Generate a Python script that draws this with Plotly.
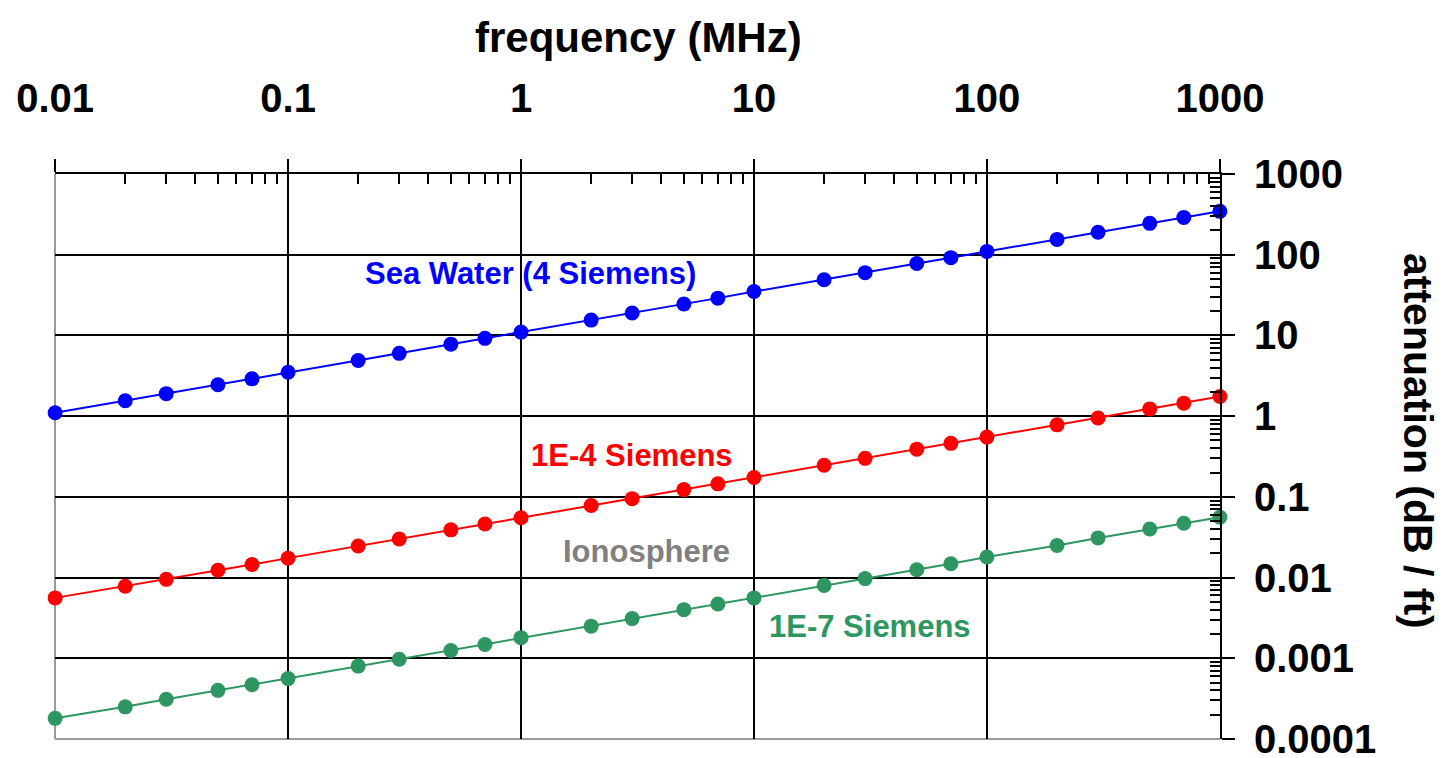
import math
import plotly.graph_objects as go

# frequency in MHz
freq = [0.01, 0.02, 0.03, 0.05, 0.07, 0.1, 0.2, 0.3, 0.5, 0.7,
        1, 2, 3, 5, 7, 10, 20, 30, 50, 70,
        100, 200, 300, 500, 700, 1000]

# attenuation (dB / ft)
sea_water = [1.1, 1.55, 1.9, 2.45, 2.9, 3.5, 4.9, 6.0, 7.8, 9.2,
             11, 15.5, 19, 24.5, 29, 35, 49, 60, 78, 92,
             110, 155, 190, 245, 290, 345]
s_1e4 = [0.0056, 0.0078, 0.0095, 0.0123, 0.0145, 0.0174, 0.0246, 0.030, 0.039, 0.046,
         0.055, 0.078, 0.095, 0.123, 0.145, 0.174, 0.246, 0.30, 0.39, 0.46,
         0.55, 0.78, 0.95, 1.23, 1.45, 1.75]
s_1e7 = [0.00018, 0.00025, 0.00031, 0.0004, 0.00047, 0.00056, 0.0008, 0.00097, 0.00125, 0.00148,
         0.0018, 0.0025, 0.0031, 0.004, 0.0047, 0.0056, 0.008, 0.0097, 0.0125, 0.0148,
         0.018, 0.025, 0.031, 0.040, 0.047, 0.056]

x_tickvals = [0.01, 0.1, 1, 10, 100, 1000]
x_ticktext = ["0.01", "0.1", "1", "10", "100", "1000"]
y_tickvals = [0.0001, 0.001, 0.01, 0.1, 1, 10, 100, 1000]
y_ticktext = ["0.0001", "0.001", "0.01", "0.1", "1", "10", "100", "1000"]

series = [
    ("Sea Water (4 Siemens)", sea_water, "#0000ff"),
    ("1E-4 Siemens", s_1e4, "#ff0000"),
    ("1E-7 Siemens", s_1e7, "#2e9660"),
]

# series label texts and positions (data units: MHz, dB/ft)
label_texts = ["Sea Water (4 Siemens)", "1E-4 Siemens", "Ionosphere", "1E-7 Siemens"]
label_x = [1.1, 3.0, 3.45, 31.5]
label_y = [59, 0.33, 0.021, 0.00245]
label_colors = ["#0000ff", "#ff0000", "#808080", "#2e9660"]

FONT = "Liberation Sans Narrow, Arial Narrow, Liberation Sans, Arial, sans-serif"
ANN_FONT = "Liberation Sans, Arial, sans-serif"

fig = go.Figure()
for name, vals, col in series:
    fig.add_trace(go.Scatter(
        x=freq, y=vals, mode="lines+markers", name=name,
        line=dict(color=col, width=2),
        marker=dict(color=col, size=15),
        cliponaxis=False, showlegend=False,
    ))

def minor_vals(lo, hi):
    return [m * 10.0 ** e for e in range(lo, hi) for m in range(2, 10)]

# page has an 8px body margin, so the figure is drawn 8px in from the window corner
fig.update_layout(
    width=1437, height=750,
    margin=dict(l=47, r=225, t=166, b=19),
    paper_bgcolor="white", plot_bgcolor="white",
    font=dict(family=FONT, size=40, color="black"),
    xaxis=dict(
        type="log", side="top", range=[-2.0005, 3.0005], automargin=False,
        tickmode="array", tickvals=x_tickvals, ticktext=x_ticktext,
        tickfont=dict(family=FONT, size=40, color="black", weight="bold"),
        ticks="outside", ticklen=13, tickwidth=2, tickcolor="black",
        ticklabelstandoff=31, ticklabeloverflow="allow",
        showline=True, linecolor="black", linewidth=2,
        showgrid=True, gridcolor="black", gridwidth=2,
        minor=dict(tickmode="array", tickvals=minor_vals(-2, 3),
                   ticks="inside", ticklen=10, tickwidth=2, tickcolor="black",
                   showgrid=False),
        zeroline=False,
    ),
    yaxis=dict(
        type="log", side="right", range=[-4.0005, 3.0005], automargin=False,
        tickmode="array", tickvals=y_tickvals, ticktext=y_ticktext,
        tickfont=dict(family=FONT, size=40, color="black", weight="bold"),
        ticks="outside", ticklen=13, tickwidth=2, tickcolor="black",
        ticklabelstandoff=11, ticklabeloverflow="allow",
        showline=True, linecolor="black", linewidth=2,
        showgrid=True, gridcolor="black", gridwidth=2,
        minor=dict(tickmode="array", tickvals=minor_vals(-4, 3),
                   ticks="inside", ticklen=10, tickwidth=2, tickcolor="black",
                   showgrid=False),
        zeroline=False,
    ),
)

# gray left and bottom frame lines
fig.add_shape(type="line", xref="x domain", yref="y domain", x0=0, x1=0, y0=0, y1=1,
              line=dict(color="#9a9a9a", width=2), layer="below")
fig.add_shape(type="line", xref="x domain", yref="y domain", x0=0, x1=1, y0=0, y1=0,
              line=dict(color="#9a9a9a", width=2), layer="below")

# axis titles
fig.add_annotation(text="<b>frequency (MHz)</b>", xref="paper", yref="paper",
                   x=(638 - 55) / 1165, y=1 + (174 - 38) / 565, showarrow=False,
                   font=dict(family=FONT, size=42, color="black"),
                   xanchor="center", yanchor="middle")
fig.add_annotation(text="<b>attenuation (dB / ft)</b>", xref="paper", yref="paper",
                   x=1 + (1418 - 1220) / 1165, y=(739 - 441) / 565, showarrow=False,
                   textangle=90,
                   font=dict(family=FONT, size=41, color="black"),
                   xanchor="center", yanchor="middle")

# series labels (log axes: annotation positions in log10 units)
for txt, lx, ly, col in zip(label_texts, label_x, label_y, label_colors):
    fig.add_annotation(text="<b>" + txt + "</b>", x=math.log10(lx), y=math.log10(ly),
                       xref="x", yref="y", xanchor="center", yanchor="middle",
                       showarrow=False, font=dict(family=ANN_FONT, size=31, color=col))

fig.write_html("out.html")
